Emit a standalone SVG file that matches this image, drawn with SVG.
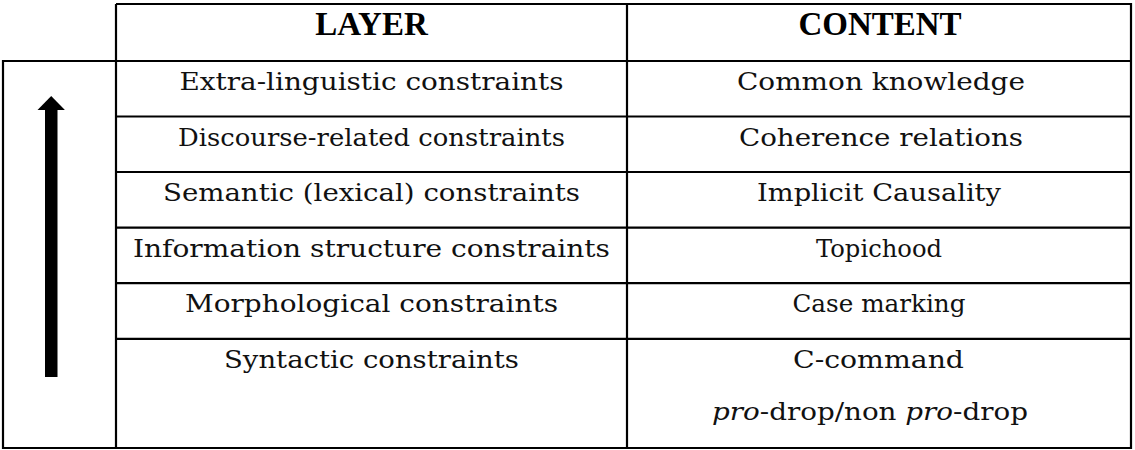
<svg xmlns="http://www.w3.org/2000/svg" width="1135" height="450" viewBox="0 0 1135 450">
  <style>
    .grid { stroke: #000; stroke-width: 2.2; fill: none; }
    .hd { font-family: "Liberation Serif", "Times New Roman", serif; font-weight: bold; font-size: 33px; fill: #000; text-anchor: middle; }
    .tx { font-family: "DejaVu Serif", Georgia, serif; font-size: 23.5px; fill: #111; text-anchor: middle; }
    .it { font-style: italic; }
  </style>
  <rect width="1135" height="450" fill="#fff"/>

  <!-- table rules -->
  <g id="grid" class="grid">
    <path d="M116 4 H1131 V448 H3 V61 H1131"/>
    <path d="M116 4 V448 M627 4 V448"/>
    <path d="M116 116.5 H1131 M116 172 H1131 M116 227.6 H1131 M116 283.2 H1131 M116 338.8 H1131"/>
  </g>

  <!-- header row -->
  <g id="header">
    <text class="hd" x="371.5" y="35">LAYER</text>
    <text class="hd" x="880" y="35">CONTENT</text>
  </g>

  <!-- layer column -->
  <g id="layers">
    <text class="tx" x="371.5" y="90" textLength="384" lengthAdjust="spacingAndGlyphs">Extra-linguistic constraints</text>
    <text class="tx" x="371.5" y="145.6" textLength="387" lengthAdjust="spacingAndGlyphs">Discourse-related constraints</text>
    <text class="tx" x="371.5" y="201.2" textLength="417" lengthAdjust="spacingAndGlyphs">Semantic (lexical) constraints</text>
    <text class="tx" x="371.5" y="256.8" textLength="477" lengthAdjust="spacingAndGlyphs">Information structure constraints</text>
    <text class="tx" x="371.5" y="312.4" textLength="373" lengthAdjust="spacingAndGlyphs">Morphological constraints</text>
    <text class="tx" x="371.5" y="368" textLength="295" lengthAdjust="spacingAndGlyphs">Syntactic constraints</text>
  </g>

  <!-- content column -->
  <g id="contents">
    <text class="tx" x="881" y="90" textLength="288" lengthAdjust="spacingAndGlyphs">Common knowledge</text>
    <text class="tx" x="881" y="145.6" textLength="284" lengthAdjust="spacingAndGlyphs">Coherence relations</text>
    <text class="tx" x="879" y="201.2" textLength="244" lengthAdjust="spacingAndGlyphs">Implicit Causality</text>
    <text class="tx" x="879" y="256.8" textLength="126" lengthAdjust="spacingAndGlyphs">Topichood</text>
    <text class="tx" x="879" y="312.4" textLength="173" lengthAdjust="spacingAndGlyphs">Case marking</text>
    <text class="tx" x="878.5" y="368" textLength="171" lengthAdjust="spacingAndGlyphs">C-command</text>
    <text class="tx" x="870" y="420" textLength="316" lengthAdjust="spacingAndGlyphs"><tspan class="it">pro</tspan>-drop/non <tspan class="it">pro</tspan>-drop</text>
  </g>

  <!-- upward arrow beside the layers -->
  <g id="arrow" fill="#000">
    <rect x="45" y="109" width="12.5" height="268"/>
    <polygon points="51.2,96 37.5,110 64.9,110"/>
  </g>
</svg>
